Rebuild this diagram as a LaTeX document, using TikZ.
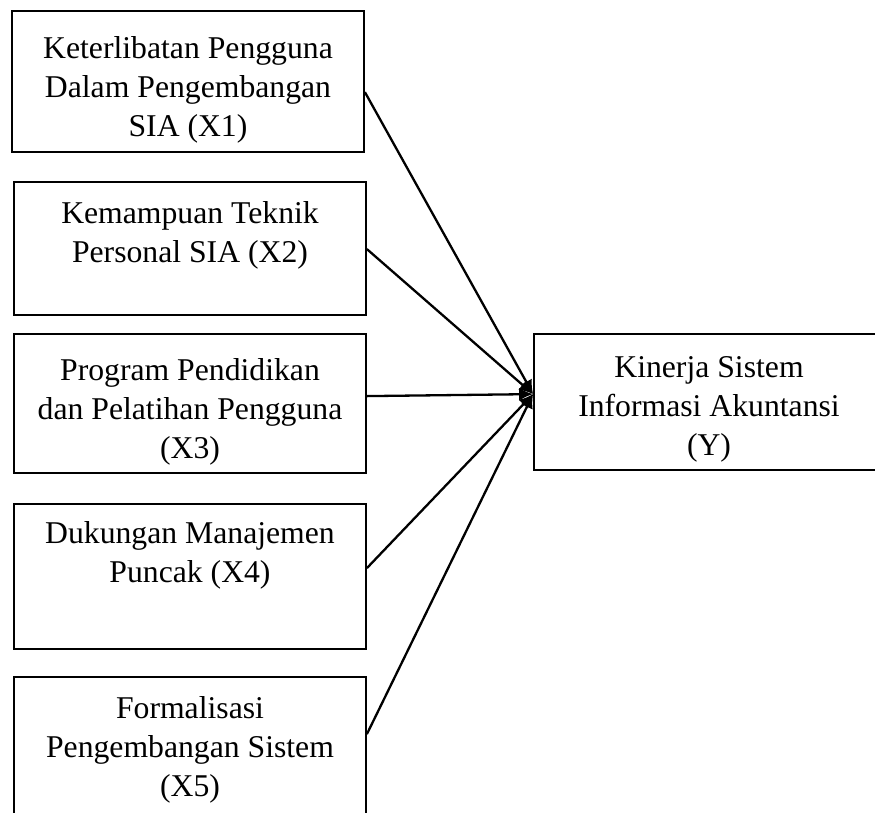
\documentclass[tikz,border=0pt]{standalone}
\usepackage{fontspec}
\setmainfont{Liberation Serif}
\usetikzlibrary{arrows.meta,calc}
\tikzset{
  box/.style={draw=black, line width=1.8pt, inner sep=0pt, rectangle},
  txt/.style={anchor=base, inner sep=0pt, font=\fontsize{31.7}{39}\selectfont},
  link/.style={line width=2.3pt, -{Latex[length=14pt,width=13pt]}}
}
\begin{document}
\begin{tikzpicture}[x=1pt,y=-1pt]
\useasboundingbox (0,0) rectangle (875,812);
\clip (0,0) rectangle (875,812);
\fill[white] (0,0) rectangle (875,812);
\node[box, minimum width=352pt, minimum height=141pt] (b1) at (188,81.5) {};
\node[box, minimum width=352pt, minimum height=133pt] (b2) at (190,248.5) {};
\node[box, minimum width=352pt, minimum height=139pt] (b3) at (190,403.5) {};
\node[box, minimum width=352pt, minimum height=145pt] (b4) at (190,576.5) {};
\node[box, minimum width=352pt, minimum height=153pt] (b5) at (190,753.5) {};
\node[box, minimum width=350pt, minimum height=136pt] (y) at (709,402) {};
\node[txt] (t1) at (188,58) {\begin{tabular}[t]{@{}c@{}}Keterlibatan Pengguna\\Dalam Pengembangan\\SIA (X1)\end{tabular}};
\node[txt] (t2) at (190,223) {\begin{tabular}[t]{@{}c@{}}Kemampuan Teknik\\Personal SIA (X2)\end{tabular}};
\node[txt] (t3) at (190,380) {\begin{tabular}[t]{@{}c@{}}Program Pendidikan\\dan Pelatihan Pengguna\\(X3)\end{tabular}};
\node[txt] (t4) at (190,543) {\begin{tabular}[t]{@{}c@{}}Dukungan Manajemen\\Puncak (X4)\end{tabular}};
\node[txt] (t5) at (190,718) {\begin{tabular}[t]{@{}c@{}}Formalisasi\\Pengembangan Sistem\\(X5)\end{tabular}};
\node[txt] (ty) at (709,377) {\begin{tabular}[t]{@{}c@{}}Kinerja Sistem\\Informasi Akuntansi\\(Y)\end{tabular}};
\coordinate (tgt) at ($(y.north west)+(0,61)$);
\draw[link] ($(b1.north east)+(0,82)$) -- (tgt);
\draw[link] ($(b2.north east)+(0,68)$) -- (tgt);
\draw[link] ($(b3.north east)+(0,63)$) -- (tgt);
\draw[link] ($(b4.north east)+(0,65)$) -- (tgt);
\draw[link] ($(b5.north east)+(0,58)$) -- (tgt);
\end{tikzpicture}
\end{document}
